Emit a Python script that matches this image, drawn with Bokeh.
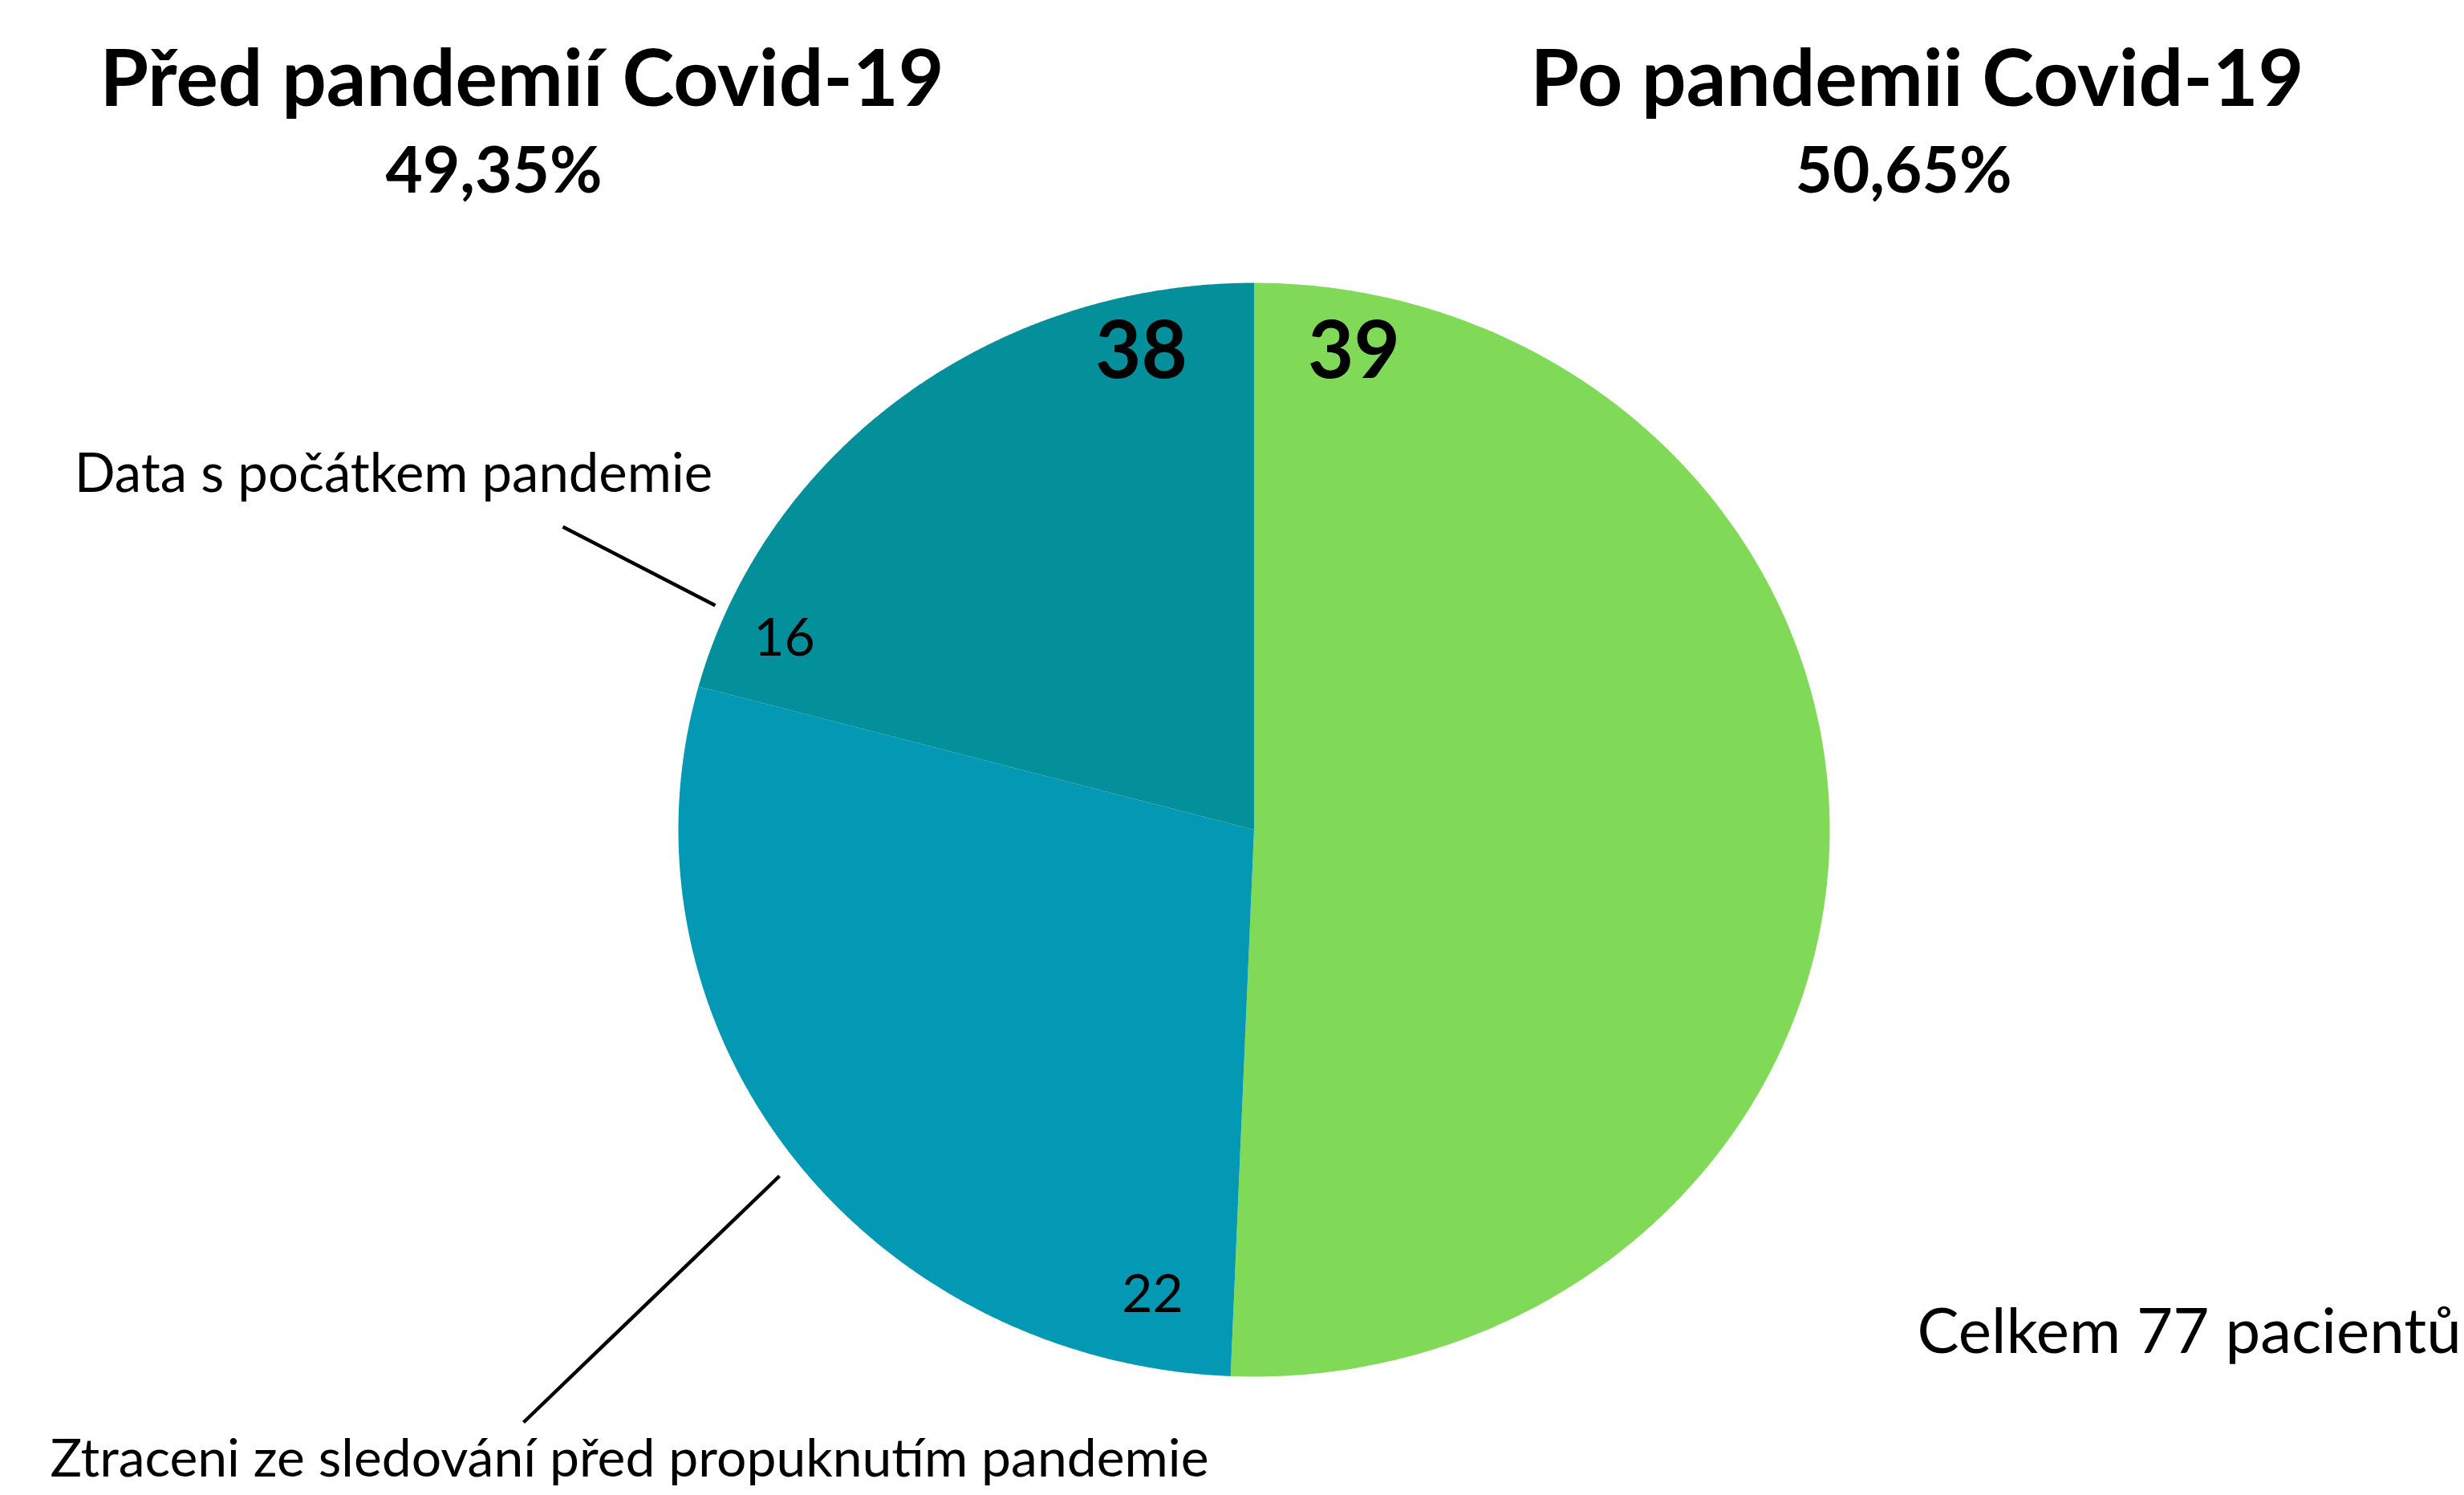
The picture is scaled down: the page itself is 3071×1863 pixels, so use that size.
import numpy as np
from bokeh.plotting import figure
from bokeh.models import Range1d
from bokeh.core.properties import value
from bokeh.embed import file_html
from bokeh.resources import INLINE

# ---------------- data ----------------
categories = ["Po pandemii Covid-19",
              "Ztraceni ze sledování před propuknutím pandemie",
              "Data s počátkem pandemie"]
counts = [39, 22, 16]
colors = ["#80DA58", "#0398B4", "#03909A"]
groups = ["Před pandemií Covid-19", "Po pandemii Covid-19"]
group_counts = [38, 39]
total_label = "Celkem 77 pacientů"

# ---------------- layout helpers (reference pixel -> data) ----------------
W, H = 3071, 1863
OFF = 0                         # canvas offset on the page
PCX, PCY = 1562.5, 1033.5       # pie centre (page px)
RX, RY = 717.5, 681.5           # pie radii (px)
K = 0.36                        # baseline correction (fraction of font size)


def dx(px):
    return (px - PCX) / RX


def dy(py, size=0):
    return (PCY - (py - K * size)) / RY


p = figure(width=W, height=H, output_backend="svg", toolbar_location=None,
           x_range=Range1d(dx(OFF), dx(OFF + W)), y_range=Range1d(dy(OFF + H), dy(OFF)),
           min_border=0)
p.axis.visible = False
p.grid.visible = False
p.outline_line_color = None
p.background_fill_color = "white"
p.border_fill_color = "white"

# ---------------- pie slices ----------------
total = sum(counts)
start = np.pi / 2
xs, ys = [], []
for c in counts:
    end = start - 2 * np.pi * c / total
    t = np.linspace(start, end, 300)
    xs.append([0.0] + list(np.cos(t)))
    ys.append([0.0] + list(np.sin(t)))
    start = end
p.patches(xs, ys, fill_color=colors, line_color=None)

FONT = value("Lato")


def txt(x, y, text, size, bold=False, align="center"):
    p.text(x=[dx(v) for v in x], y=[dy(v, size) for v in y], text=text,
           text_font=FONT, text_font_style="bold" if bold else "normal",
           text_font_size=f"{size}px", text_align=align,
           text_baseline="alphabetic", text_color="black")


# group titles and percentages
pcts = [f"{100 * g / total:.2f}".replace(".", ",") + "%" for g in group_counts]
txt([650, 2389], [129, 129], groups, 98, bold=True)
txt([615, 2372], [237, 237], pcts, 80, bold=True)

# big group counts
txt([1422, 1687], [470, 470], [str(g) for g in group_counts], 99, bold=True)

# slice counts for the pre-pandemic slices
txt([1436, 977], [1635, 817], [str(c) for c in counts[1:]], 66)

# category labels
txt([784], [1838], [categories[1]], 66)
txt([490], [611], [categories[2]], 67)

# leader lines
p.segment(x0=[dx(701), dx(971)], y0=[dy(656), dy(1465)],
          x1=[dx(891), dx(652)], y1=[dy(754), dy(1772)],
          line_color="black", line_width=4.5)

# total
txt([2389], [1684], [total_label], 78, align="left")

open("out.html", "w").write(file_html(p, INLINE))
